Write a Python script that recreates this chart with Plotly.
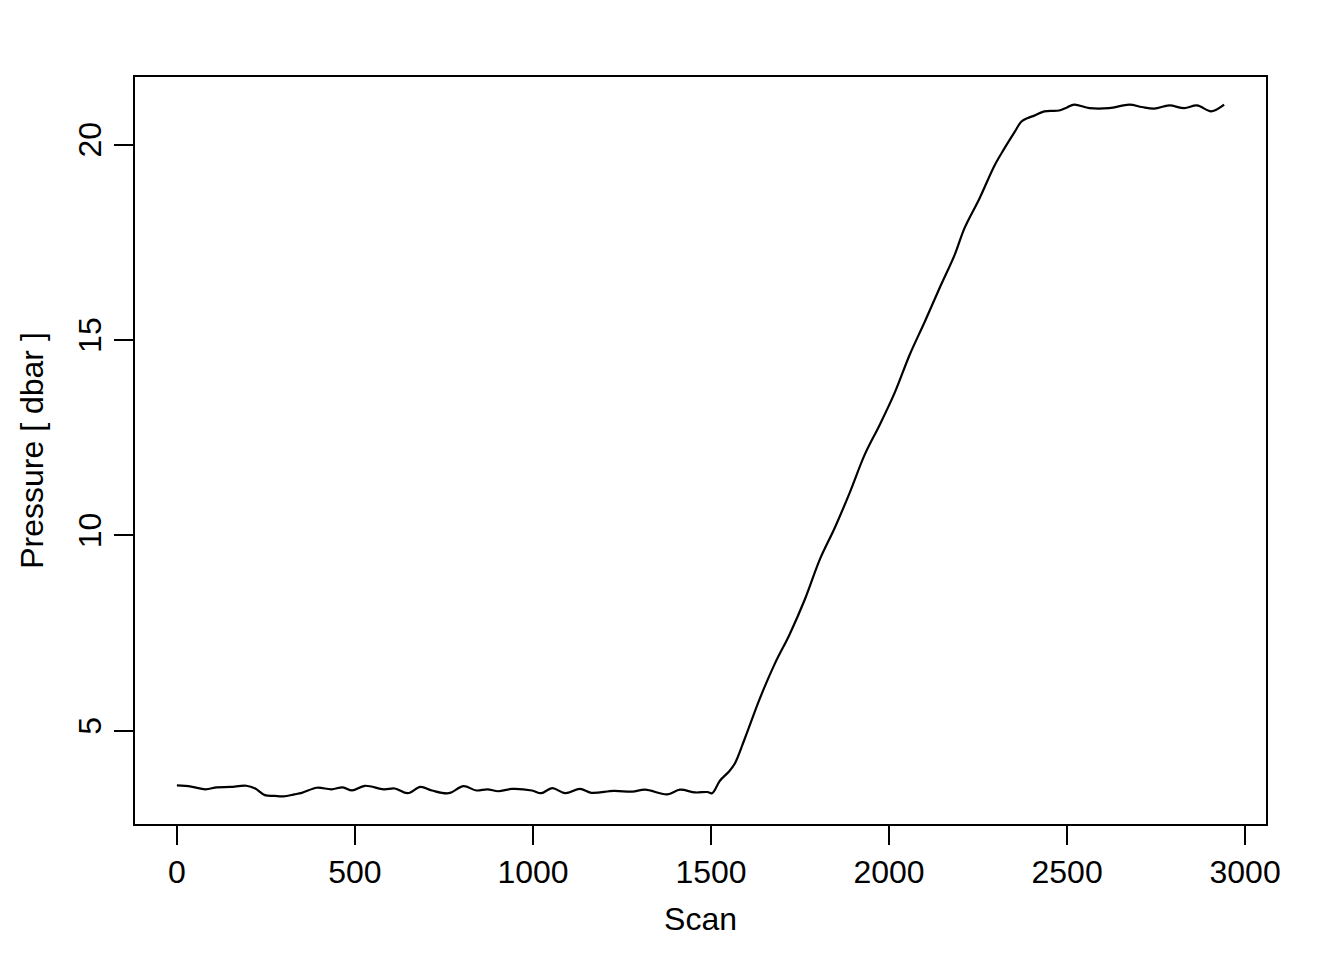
"""
plot.py
------------------------------------
Pressure vs scan (CTD profile)
"""

import plotly.graph_objects as go

scan = [
    0, 40, 80, 112, 150, 195, 220, 247, 275, 299, 330, 351, 393, 434,
    466, 492, 528, 581, 612, 648, 684, 716, 763, 805, 841, 872, 903,
    940, 997, 1023, 1054, 1091, 1132, 1164, 1227, 1279, 1315, 1377,
    1413, 1455, 1490, 1503, 1525, 1550, 1567, 1595, 1637, 1679, 1721,
    1764, 1806, 1848, 1890, 1932, 1974, 2016, 2058, 2100, 2142, 2184,
    2212, 2254, 2296, 2324, 2352, 2372, 2390, 2408, 2436, 2478, 2500,
    2520, 2563, 2618, 2675, 2710, 2745, 2787, 2829, 2865, 2905, 2941,
]

pressure = [
    3.60, 3.57, 3.50, 3.55, 3.56, 3.59, 3.52, 3.35, 3.33, 3.32, 3.37,
    3.41, 3.54, 3.50, 3.55, 3.47, 3.59, 3.50, 3.52, 3.40, 3.56, 3.47,
    3.40, 3.58, 3.47, 3.50, 3.45, 3.51, 3.47, 3.40, 3.53, 3.40, 3.51,
    3.41, 3.46, 3.44, 3.49, 3.37, 3.49, 3.42, 3.43, 3.40, 3.72, 3.95,
    4.16, 4.80, 5.82, 6.71, 7.47, 8.37, 9.39, 10.2, 11.1, 12.07, 12.83,
    13.65, 14.62, 15.46, 16.33, 17.17, 17.86, 18.62, 19.46, 19.90,
    20.31, 20.59, 20.68, 20.74, 20.85, 20.87, 20.95, 21.02, 20.93,
    20.93, 21.02, 20.96, 20.92, 21.0, 20.93, 21.0, 20.85, 21.02,
]

x_ticks = [0, 500, 1000, 1500, 2000, 2500, 3000]
y_ticks = [5, 10, 15, 20]


def padded(values):
    lo, hi = min(values), max(values)
    pad = 0.04 * (hi - lo)
    return [lo - pad, hi + pad]


fig = go.Figure(
    go.Scatter(
        x=scan,
        y=pressure,
        mode="lines",
        line=dict(color="black", width=2.2, shape="spline", smoothing=1.0),
        showlegend=False,
    )
)

axis_style = dict(
    showgrid=False,
    zeroline=False,
    showline=True,
    mirror=True,
    linecolor="black",
    linewidth=1.5,
    ticks="outside",
    ticklen=19,
    tickwidth=1.5,
    tickcolor="black",
    tickfont=dict(size=32, color="black"),
)

fig.update_xaxes(
    range=padded(scan),
    tickvals=x_ticks,
    title=dict(text="Scan", font=dict(size=32, color="black"), standoff=18),
    **axis_style
)

fig.update_yaxes(
    range=padded(pressure),
    tickvals=y_ticks,
    tickangle=-90,
    title=dict(text="Pressure [ dbar ]", font=dict(size=32, color="black"),
               standoff=19),
    **axis_style
)

fig.update_layout(
    width=1344,
    height=960,
    margin=dict(l=127, r=86, t=69, b=144),
    paper_bgcolor="white",
    plot_bgcolor="white",
    font=dict(family="Liberation Sans, Arial, sans-serif", color="black"),
)

fig.write_html("out.html")
